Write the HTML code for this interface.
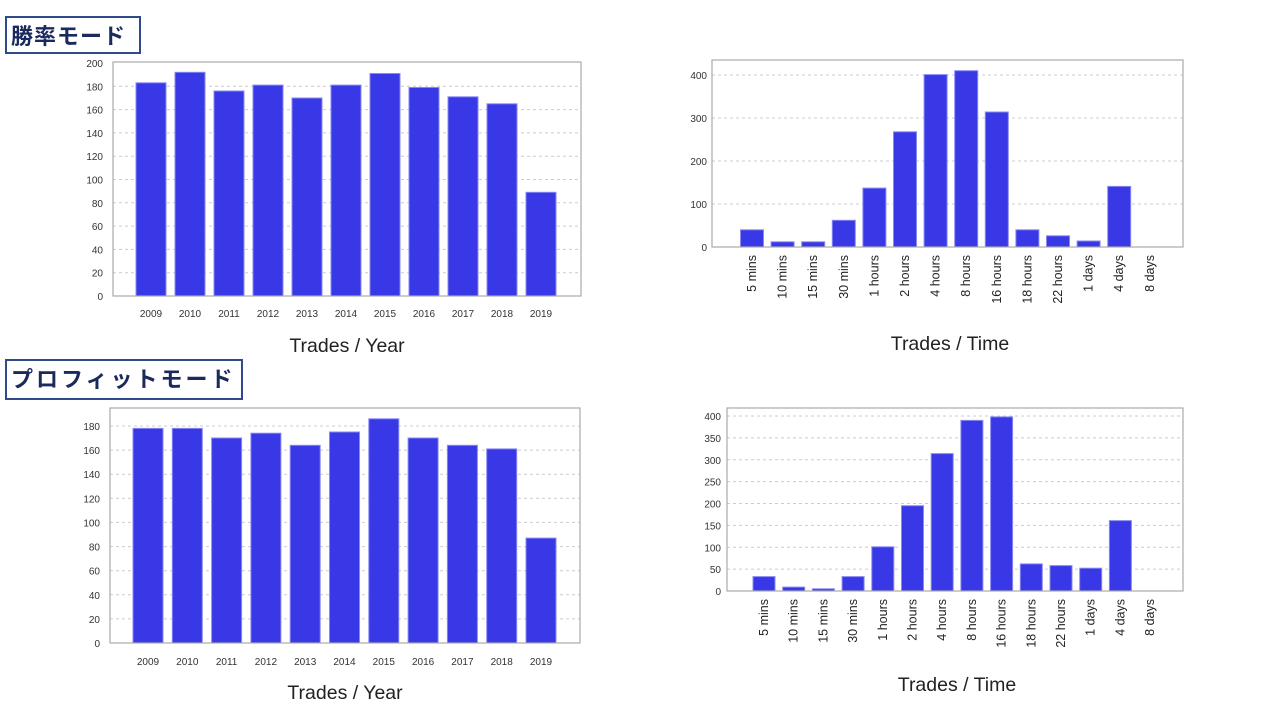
<!DOCTYPE html>
<html><head><meta charset="utf-8"><style>
body{margin:0;background:#fff;width:1280px;height:720px;overflow:hidden}
svg{position:absolute;left:0;top:0}
.t{font-family:"Liberation Sans",sans-serif;font-size:10px;fill:#333}
.r{font-family:"Liberation Sans",sans-serif;font-size:12.5px;fill:#222}
.h{font-family:"Liberation Sans",sans-serif;font-size:19.5px;fill:#222}
.j{font-family:"Liberation Sans","Noto Sans CJK JP",sans-serif;font-size:22px;font-weight:bold;fill:#1a2a5c}
.g{stroke:#ccc;stroke-dasharray:3,3;stroke-width:1}
rect.b{fill:#3838e6;stroke:#8888f4;stroke-width:1}
</style></head><body>
<svg width="1280" height="720" xmlns="http://www.w3.org/2000/svg">
<rect x="6" y="17" width="134" height="36" fill="#fff" stroke="#2f4a8a" stroke-width="2"/>
<text class="j" x="11" y="44" letter-spacing="1">勝率モード</text>
<rect x="6" y="360" width="236" height="39" fill="#fff" stroke="#2f4a8a" stroke-width="2"/>
<text class="j" x="11" y="387" letter-spacing="3">プロフィットモード</text>

<g>
<line class="g" x1="113" x2="581" y1="272.7" y2="272.7"/><line class="g" x1="113" x2="581" y1="249.4" y2="249.4"/><line class="g" x1="113" x2="581" y1="226.1" y2="226.1"/><line class="g" x1="113" x2="581" y1="202.8" y2="202.8"/><line class="g" x1="113" x2="581" y1="179.5" y2="179.5"/><line class="g" x1="113" x2="581" y1="156.2" y2="156.2"/><line class="g" x1="113" x2="581" y1="132.9" y2="132.9"/><line class="g" x1="113" x2="581" y1="109.6" y2="109.6"/><line class="g" x1="113" x2="581" y1="86.3" y2="86.3"/>
<rect class="b" x="136" y="82.8" width="30" height="213.2"/><rect class="b" x="175" y="72.3" width="30" height="223.7"/><rect class="b" x="214" y="91" width="30" height="205"/><rect class="b" x="253" y="85.1" width="30" height="210.9"/><rect class="b" x="292" y="98" width="30" height="198"/><rect class="b" x="331" y="85.1" width="30" height="210.9"/><rect class="b" x="370" y="73.5" width="30" height="222.5"/><rect class="b" x="409" y="87.5" width="30" height="208.5"/><rect class="b" x="448" y="96.8" width="30" height="199.2"/><rect class="b" x="487" y="103.8" width="30" height="192.2"/><rect class="b" x="526" y="192.3" width="30" height="103.7"/>
<rect x="113" y="62" width="468" height="234" fill="none" stroke="#aaa" stroke-width="1.2"/>
<g class="t" text-anchor="end"><text x="103" y="300">0</text><text x="103" y="276.7">20</text><text x="103" y="253.4">40</text><text x="103" y="230.1">60</text><text x="103" y="206.8">80</text><text x="103" y="183.5">100</text><text x="103" y="160.2">120</text><text x="103" y="136.9">140</text><text x="103" y="113.6">160</text><text x="103" y="90.3">180</text><text x="103" y="67">200</text></g>
<g class="t" text-anchor="middle"><text x="151" y="317">2009</text><text x="190" y="317">2010</text><text x="229" y="317">2011</text><text x="268" y="317">2012</text><text x="307" y="317">2013</text><text x="346" y="317">2014</text><text x="385" y="317">2015</text><text x="424" y="317">2016</text><text x="463" y="317">2017</text><text x="502" y="317">2018</text><text x="541" y="317">2019</text></g>
<text class="h" x="347" y="352" text-anchor="middle">Trades / Year</text>
</g>

<g>
<line class="g" x1="712" x2="1183" y1="204" y2="204"/><line class="g" x1="712" x2="1183" y1="161" y2="161"/><line class="g" x1="712" x2="1183" y1="118" y2="118"/><line class="g" x1="712" x2="1183" y1="75" y2="75"/>
<rect class="b" x="740.5" y="229.8" width="23" height="17.2"/><rect class="b" x="771.1" y="241.8" width="23" height="5.2"/><rect class="b" x="801.7" y="241.8" width="23" height="5.2"/><rect class="b" x="832.3" y="220.3" width="23" height="26.7"/><rect class="b" x="862.9" y="188.1" width="23" height="58.9"/><rect class="b" x="893.5" y="131.8" width="23" height="115.2"/><rect class="b" x="924.1" y="74.6" width="23" height="172.4"/><rect class="b" x="954.7" y="70.7" width="23" height="176.3"/><rect class="b" x="985.3" y="112" width="23" height="135"/><rect class="b" x="1015.9" y="229.8" width="23" height="17.2"/><rect class="b" x="1046.5" y="235.8" width="23" height="11.2"/><rect class="b" x="1077.1" y="241" width="23" height="6"/><rect class="b" x="1107.7" y="186.4" width="23" height="60.6"/>
<rect x="712" y="60" width="471" height="187" fill="none" stroke="#aaa" stroke-width="1.2"/>
<g class="t" text-anchor="end"><text x="707" y="251">0</text><text x="707" y="208">100</text><text x="707" y="165">200</text><text x="707" y="122">300</text><text x="707" y="79">400</text></g>
<g class="r" text-anchor="end">
<text transform="translate(756,255) rotate(-90)">5 mins</text><text transform="translate(786.6,255) rotate(-90)">10 mins</text><text transform="translate(817.2,255) rotate(-90)">15 mins</text><text transform="translate(847.8,255) rotate(-90)">30 mins</text><text transform="translate(878.4,255) rotate(-90)">1 hours</text><text transform="translate(909,255) rotate(-90)">2 hours</text><text transform="translate(939.6,255) rotate(-90)">4 hours</text><text transform="translate(970.2,255) rotate(-90)">8 hours</text><text transform="translate(1000.8,255) rotate(-90)">16 hours</text><text transform="translate(1031.4,255) rotate(-90)">18 hours</text><text transform="translate(1062,255) rotate(-90)">22 hours</text><text transform="translate(1092.6,255) rotate(-90)">1 days</text><text transform="translate(1123.2,255) rotate(-90)">4 days</text><text transform="translate(1153.8,255) rotate(-90)">8 days</text>
</g>
<text class="h" x="950" y="350" text-anchor="middle">Trades / Time</text>
</g>

<g>
<line class="g" x1="110" x2="580" y1="618.9" y2="618.9"/><line class="g" x1="110" x2="580" y1="594.8" y2="594.8"/><line class="g" x1="110" x2="580" y1="570.7" y2="570.7"/><line class="g" x1="110" x2="580" y1="546.6" y2="546.6"/><line class="g" x1="110" x2="580" y1="522.4" y2="522.4"/><line class="g" x1="110" x2="580" y1="498.3" y2="498.3"/><line class="g" x1="110" x2="580" y1="474.2" y2="474.2"/><line class="g" x1="110" x2="580" y1="450.1" y2="450.1"/><line class="g" x1="110" x2="580" y1="426" y2="426"/>
<rect class="b" x="133" y="428.4" width="30" height="214.6"/><rect class="b" x="172.3" y="428.4" width="30" height="214.6"/><rect class="b" x="211.6" y="438" width="30" height="205"/><rect class="b" x="250.9" y="433.2" width="30" height="209.8"/><rect class="b" x="290.2" y="445.3" width="30" height="197.7"/><rect class="b" x="329.5" y="432" width="30" height="211"/><rect class="b" x="368.8" y="418.8" width="30" height="224.2"/><rect class="b" x="408.1" y="438" width="30" height="205"/><rect class="b" x="447.4" y="445.3" width="30" height="197.7"/><rect class="b" x="486.7" y="448.9" width="30" height="194.1"/><rect class="b" x="526" y="538.1" width="30" height="104.9"/>
<rect x="110" y="408" width="470" height="235" fill="none" stroke="#aaa" stroke-width="1.2"/>
<g class="t" text-anchor="end"><text x="100" y="647">0</text><text x="100" y="622.9">20</text><text x="100" y="598.8">40</text><text x="100" y="574.7">60</text><text x="100" y="550.6">80</text><text x="100" y="526.4">100</text><text x="100" y="502.3">120</text><text x="100" y="478.2">140</text><text x="100" y="454.1">160</text><text x="100" y="430">180</text></g>
<g class="t" text-anchor="middle"><text x="148" y="665">2009</text><text x="187.3" y="665">2010</text><text x="226.6" y="665">2011</text><text x="265.9" y="665">2012</text><text x="305.2" y="665">2013</text><text x="344.5" y="665">2014</text><text x="383.8" y="665">2015</text><text x="423.1" y="665">2016</text><text x="462.4" y="665">2017</text><text x="501.7" y="665">2018</text><text x="541" y="665">2019</text></g>
<text class="h" x="345" y="699" text-anchor="middle">Trades / Year</text>
</g>

<g>
<line class="g" x1="727" x2="1183" y1="569.1" y2="569.1"/><line class="g" x1="727" x2="1183" y1="547.3" y2="547.3"/><line class="g" x1="727" x2="1183" y1="525.4" y2="525.4"/><line class="g" x1="727" x2="1183" y1="503.5" y2="503.5"/><line class="g" x1="727" x2="1183" y1="481.6" y2="481.6"/><line class="g" x1="727" x2="1183" y1="459.8" y2="459.8"/><line class="g" x1="727" x2="1183" y1="437.9" y2="437.9"/><line class="g" x1="727" x2="1183" y1="416" y2="416"/>
<rect class="b" x="753" y="576.6" width="22" height="14.4"/><rect class="b" x="782.7" y="587.1" width="22" height="3.9"/><rect class="b" x="812.4" y="588.8" width="22" height="2.2"/><rect class="b" x="842.1" y="576.6" width="22" height="14.4"/><rect class="b" x="871.8" y="546.8" width="22" height="44.2"/><rect class="b" x="901.5" y="505.7" width="22" height="85.3"/><rect class="b" x="931.2" y="453.6" width="22" height="137.4"/><rect class="b" x="960.9" y="420.4" width="22" height="170.6"/><rect class="b" x="990.6" y="416.9" width="22" height="174.1"/><rect class="b" x="1020.3" y="563.9" width="22" height="27.1"/><rect class="b" x="1050" y="565.6" width="22" height="25.4"/><rect class="b" x="1079.7" y="568.2" width="22" height="22.8"/><rect class="b" x="1109.4" y="520.6" width="22" height="70.4"/>
<rect x="727" y="408" width="456" height="183" fill="none" stroke="#aaa" stroke-width="1.2"/>
<g class="t" text-anchor="end"><text x="721" y="595">0</text><text x="721" y="573.1">50</text><text x="721" y="551.3">100</text><text x="721" y="529.4">150</text><text x="721" y="507.5">200</text><text x="721" y="485.6">250</text><text x="721" y="463.8">300</text><text x="721" y="441.9">350</text><text x="721" y="420">400</text></g>
<g class="r" text-anchor="end">
<text transform="translate(768,599) rotate(-90)">5 mins</text><text transform="translate(797.7,599) rotate(-90)">10 mins</text><text transform="translate(827.4,599) rotate(-90)">15 mins</text><text transform="translate(857.1,599) rotate(-90)">30 mins</text><text transform="translate(886.8,599) rotate(-90)">1 hours</text><text transform="translate(916.5,599) rotate(-90)">2 hours</text><text transform="translate(946.2,599) rotate(-90)">4 hours</text><text transform="translate(975.9,599) rotate(-90)">8 hours</text><text transform="translate(1005.6,599) rotate(-90)">16 hours</text><text transform="translate(1035.3,599) rotate(-90)">18 hours</text><text transform="translate(1065,599) rotate(-90)">22 hours</text><text transform="translate(1094.7,599) rotate(-90)">1 days</text><text transform="translate(1124.4,599) rotate(-90)">4 days</text><text transform="translate(1154.1,599) rotate(-90)">8 days</text>
</g>
<text class="h" x="957" y="691" text-anchor="middle">Trades / Time</text>
</g>
</svg>
</body></html>
